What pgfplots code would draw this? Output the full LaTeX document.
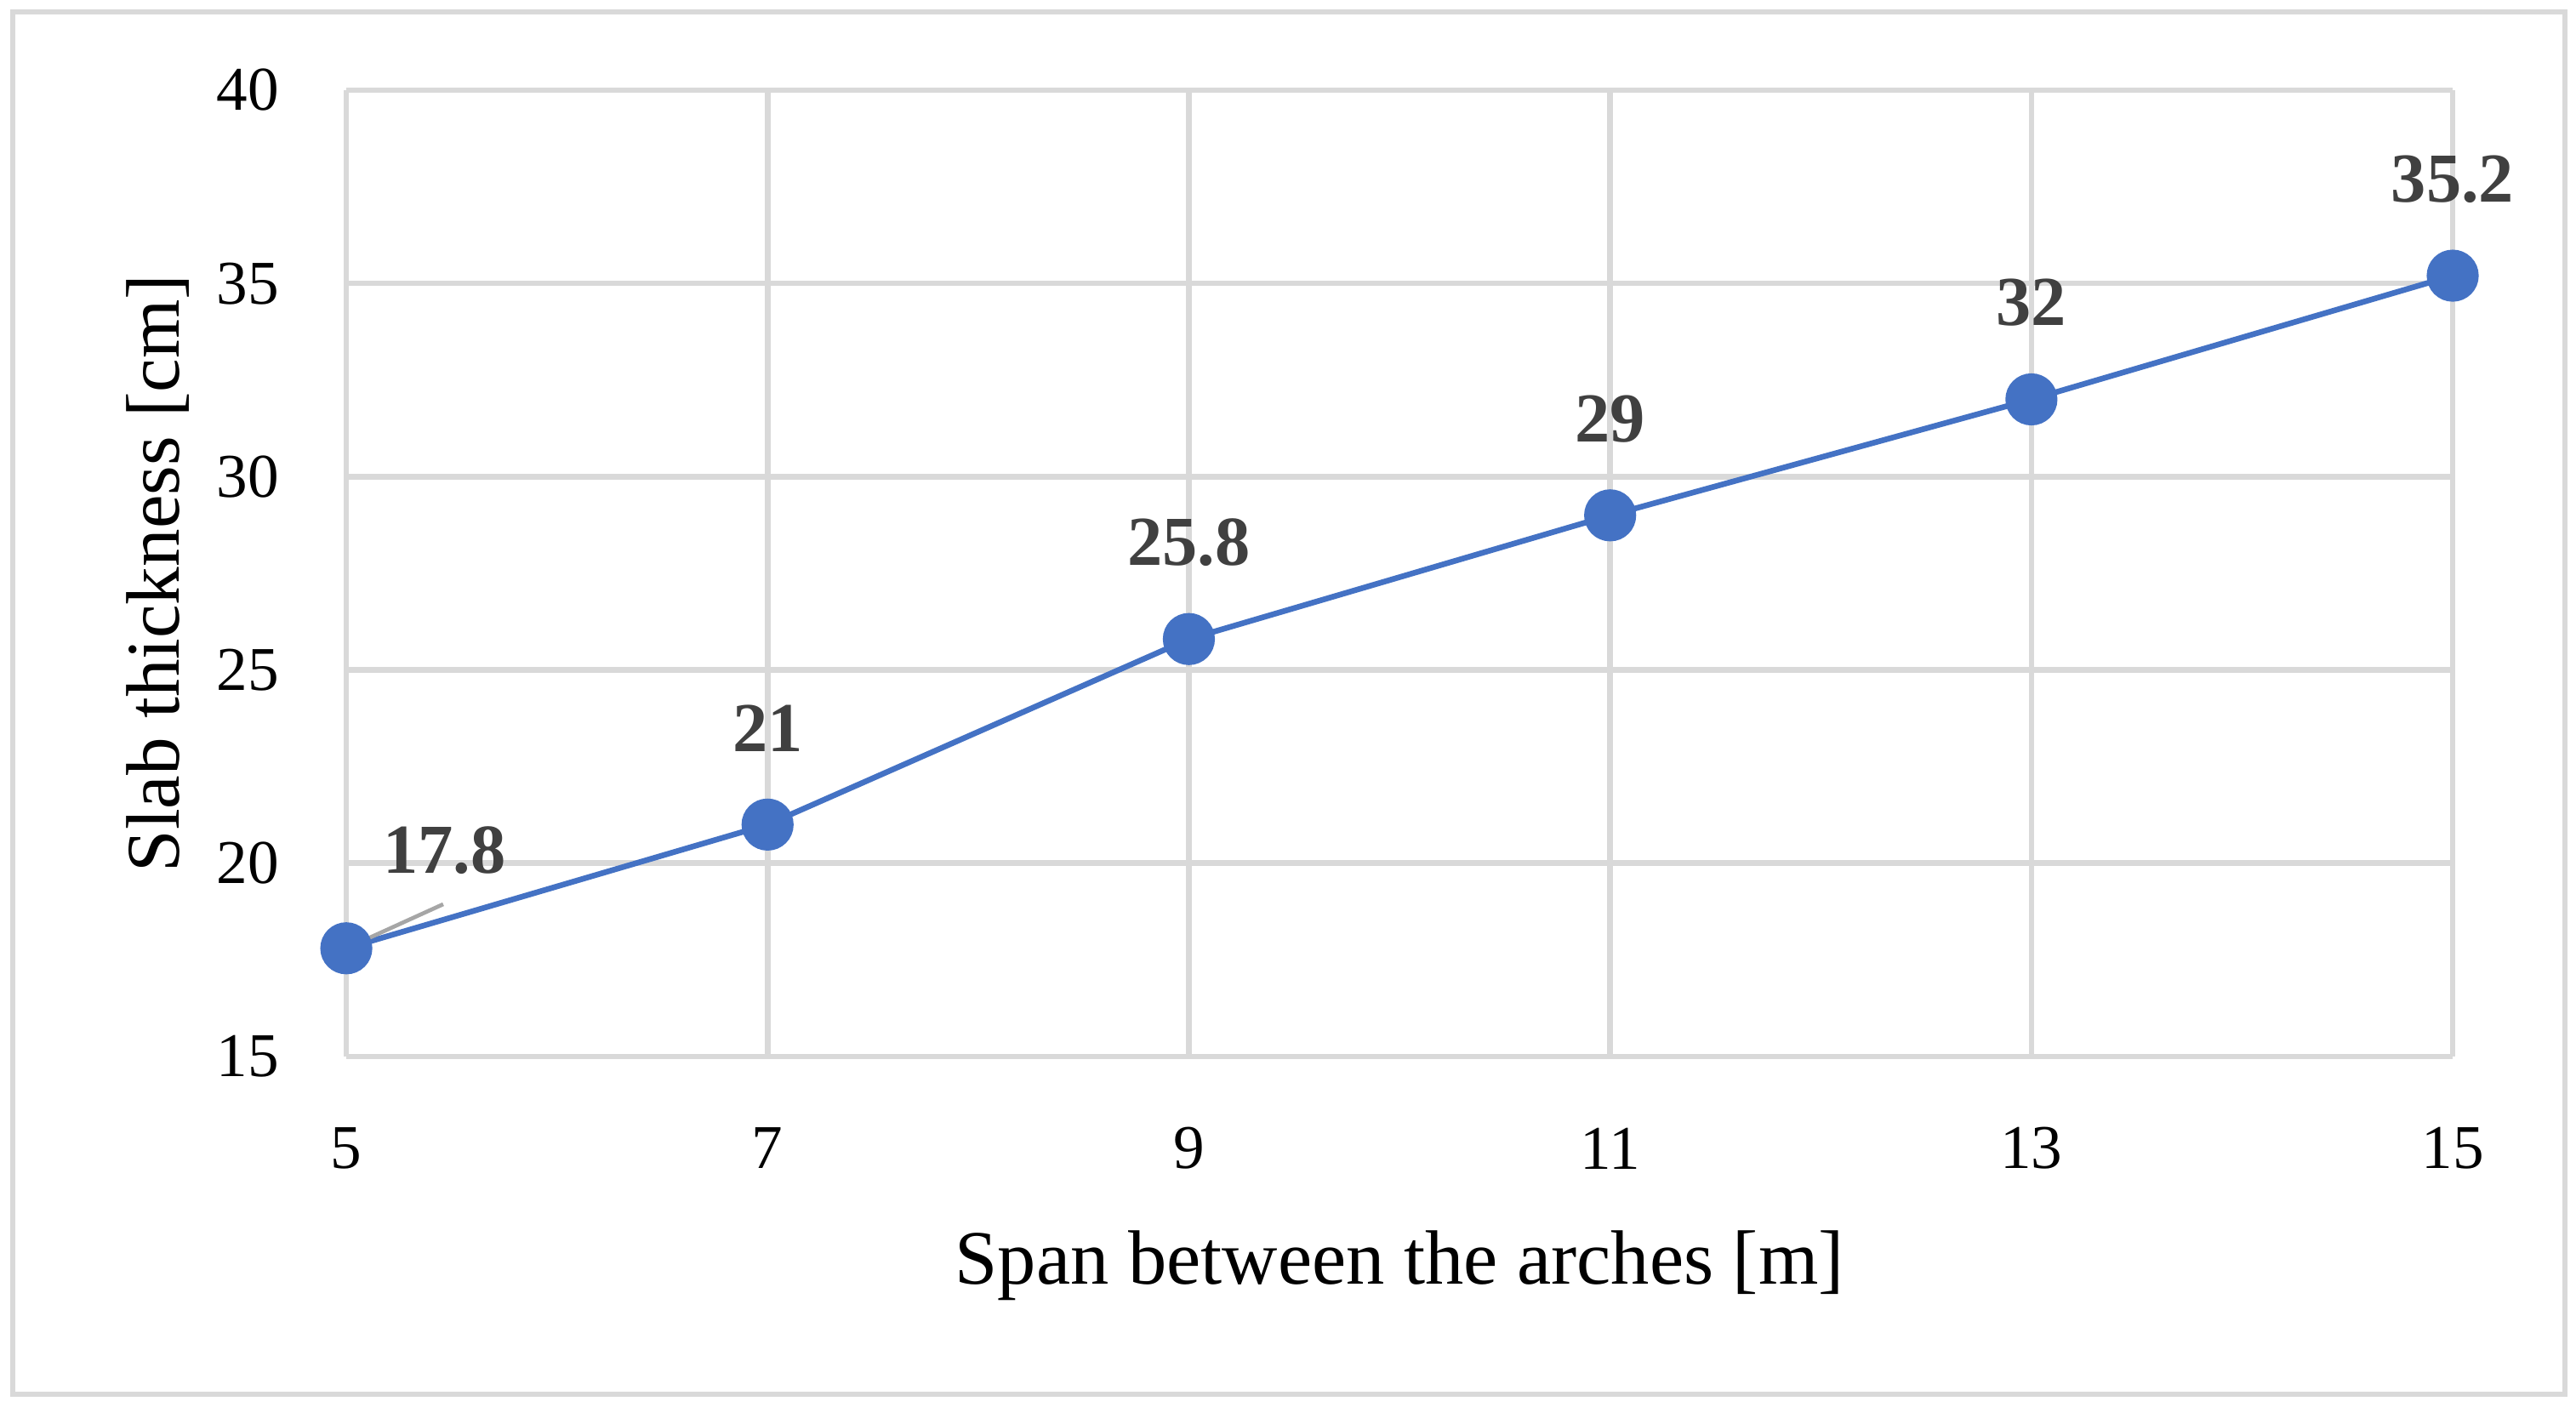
\documentclass[border=0pt]{standalone}
\usepackage{fontspec}
\setmainfont{Liberation Serif}
\usepackage{pgfplots}
\pgfplotsset{compat=1.18}
\usepackage{pgfplotstable}
\definecolor{xblue}{HTML}{4472C4}
\definecolor{xgrid}{HTML}{D9D9D9}
\definecolor{xlab}{HTML}{404040}
\definecolor{xlead}{HTML}{A6A6A6}
\pgfplotstableread{
x y lab dx dy
5 17.8 17.8 0.61 0.61
7 21 21 0 0.60
9 25.8 25.8 0 0.60
11 29 29 0 0.60
13 32 32 0 0.60
15 35.2 35.2 0 0.60
}\data
\begin{document}
\begin{tikzpicture}
\begin{axis}[
  scale only axis, width=13.083cm, height=6.003cm,
  xmin=5, xmax=15, ymin=15, ymax=40,
  xtick={5,7,9,11,13,15}, ytick={15,20,25,30,35,40},
  grid=major, major grid style={xgrid, line width=1pt},
  axis line style={draw=none}, tick style={draw=none},
  /pgf/number format/assume math mode=true,
  ticklabel style={font=\fontsize{11}{13}\selectfont, text=black},
  xticklabel style={anchor=center, yshift=-0.57cm},
  yticklabel style={anchor=east, inner sep=0pt, xshift=-0.41cm},
  xlabel={Span between the arches [m]},
  ylabel={Slab thickness [cm]},
  every axis x label/.style={at={([yshift=-1.416cm]axis description cs:0.5,0)}, anchor=base, font=\fontsize{13.6}{16}\selectfont},
  every axis y label/.style={at={([xshift=-1.17cm]axis description cs:0,0.5)}, rotate=90, anchor=center, font=\fontsize{13.4}{16}\selectfont},
  clip=false,
]
\addplot[xblue, line width=1pt, mark=*, mark size=4.1pt,
  mark options={fill=xblue, draw=xblue},
  nodes near coords, point meta=explicit symbolic,
  visualization depends on={\thisrow{dx} \as \dx},
  visualization depends on={\thisrow{dy} \as \dy},
  every node near coord/.append style={font=\fontsize{12.4}{14}\selectfont\bfseries, text=xlab, anchor=center, xshift=\dx cm, yshift=\dy cm}]
  table[x=x, y=y, meta=lab] {\data};
\draw[xlead, line width=0.7pt] (axis cs:5,17.8) -- (axis cs:5.46,18.94);
\coordinate (SW) at (rel axis cs:0,0);
\coordinate (NE) at (rel axis cs:1,1);
\end{axis}
\draw[xgrid, line width=0.9pt] ([shift={(-2.071cm,-2.098cm)}]SW) rectangle ([shift={(0.697cm,0.486cm)}]NE);
\useasboundingbox ([shift={(-2.151cm,-2.172cm)}]SW) rectangle ([shift={(0.766cm,0.560cm)}]NE);
\end{tikzpicture}
\end{document}
